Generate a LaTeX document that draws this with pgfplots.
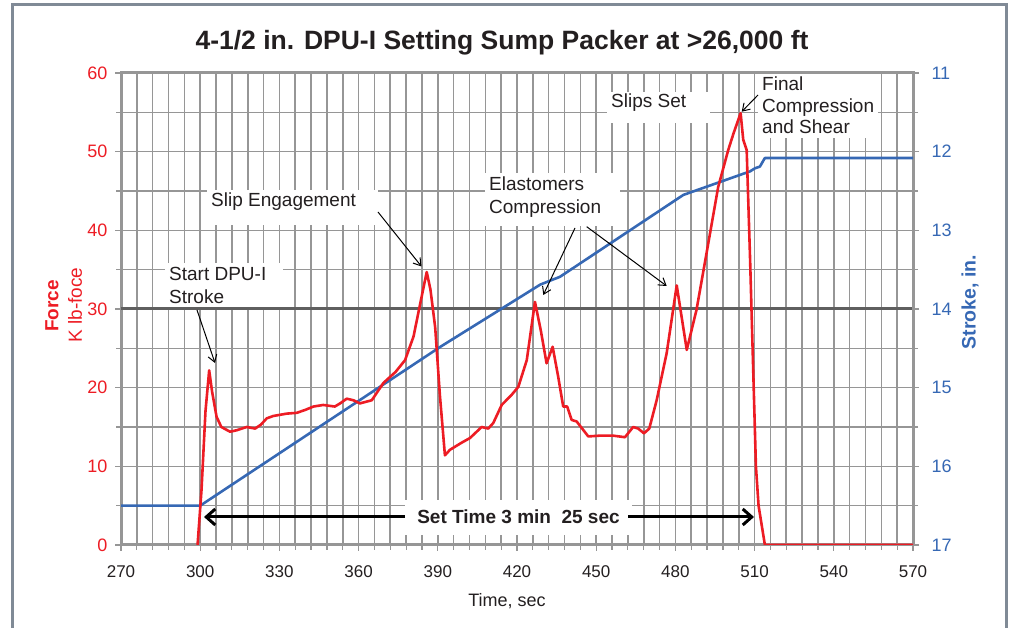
\documentclass[border=0pt]{standalone}
\usepackage{fontspec}
\setmainfont{Liberation Sans}
\usepackage{pgfplots}
\usepackage{pgfplotstable}
\pgfplotsset{compat=1.18}
\usetikzlibrary{arrows.meta}
\definecolor{fred}{RGB}{237,28,36}
\definecolor{sblue}{RGB}{54,104,180}
\definecolor{gridgray}{RGB}{150,150,150}
\definecolor{framegray}{RGB}{150,150,150}
\definecolor{bordergray}{RGB}{128,138,150}
\definecolor{darkline}{RGB}{95,95,95}
\definecolor{txt}{RGB}{35,31,32}

\pgfplotstableread{
t F
299 0
300.5 7
302 17
303.4 22.2
304.5 19.5
306.2 16.3
308 15
311.3 14.4
314 14.6
317.6 15.0
320.8 14.8
323 15.3
325.2 16.1
327.7 16.4
332.8 16.7
336.6 16.8
340 17.2
342.9 17.6
346.6 17.8
351 17.6
353 18.0
355.5 18.6
358 18.4
360.5 18.0
365 18.4
369.4 20.6
374 22.0
377.6 23.5
380.8 26.5
383.9 31.6
385.8 34.7
387.2 32.5
389 27.7
390.8 19.0
392.7 11.4
394.6 12.1
399 13.0
402.2 13.6
406.6 15.0
409.1 14.8
411 15.5
414.2 17.8
418 19.1
420.5 20.1
423.7 23.5
426.8 30.9
429 27.3
431.2 23.1
433.5 25.2
435.6 21.4
437.5 17.6
439 17.6
440.7 15.9
442.6 15.7
447 13.8
451.4 13.9
456.4 13.9
460.9 13.7
464 15.0
465.9 14.8
468.1 14.2
470.1 14.8
472.9 18.4
476.7 24.4
480.5 33.0
484.3 24.8
488 29.9
491.8 37.1
496.2 45.5
500 50.2
502 52.3
504.7 54.9
505.7 51.5
507 50.2
508.3 36.2
510.5 10
511.5 5
513.9 0
570 0
}\forcedata

\pgfplotstableread{
t S
270 16.5
300 16.5
391 14.48
428.8 13.69
436.3 13.59
483 12.55
508.3 12.25
510.2 12.21
512 12.19
513.9 12.08
570 12.08
}\strokedata

\pgfplotsset{
  common/.style={
    at={(121pt,83pt)}, anchor=south west, scale only axis,
    width=792pt, height=472pt, xmin=270, xmax=570,
    tick align=outside, major tick length=6pt, minor tick length=5pt,
    tick style={gridgray, line width=1.2pt},
    /pgf/number format/assume math mode=true,
  }
}

\begin{document}
\begin{tikzpicture}[x=1pt,y=1pt]
\useasboundingbox (0,0) rectangle (1010,628);
% outer border
\draw[bordergray, line width=3pt] (12,0) -- (12,623) -- (1006,623) -- (1006,0);

\begin{axis}[common,
  ymin=0, ymax=60,
  xtick={270,300,...,570}, ytick={0,10,...,60},
  minor x tick num=4, minor y tick num=1,
  tick pos=left,
  grid=both, major grid style={gridgray, line width=1.6pt},
  minor grid style={gridgray, line width=1.6pt},
  axis line style={framegray, line width=3pt},
  xticklabel style={font=\fontsize{17}{20}\selectfont, text=txt, yshift=-11pt},
  yticklabel style={font=\fontsize{18}{21}\selectfont, text=fred, xshift=-4pt},
]
\draw[darkline, line width=3pt] (axis cs:270,30) -- (axis cs:570,30);
\end{axis}

% annotation boxes (white, covering the grid)
\fill[white] (165,628-263) rectangle (283,628-307);
\fill[white] (207,628-190) rectangle (378,628-225);
\fill[white] (485,628-173) rectangle (620,628-226);
\fill[white] (607,628-92) rectangle (710,628-123);
\fill[white] (758,628-74.5) rectangle (878,628-138);
\fill[white] (405,628-500) rectangle (632,628-535);

\begin{axis}[common,
  ymin=11, ymax=17, y dir=reverse,
  axis x line=none, axis y line*=right,
  axis line style={framegray, line width=3pt, -},
  ytick={11,...,17}, minor y tick num=1,
  yticklabel style={font=\fontsize{18}{21}\selectfont, text=sblue, xshift=9pt},
]
\addplot[sblue, line width=2.6pt, line join=round] table[x=t, y=S] {\strokedata};
\end{axis}

\begin{axis}[common, ymin=0, ymax=60, hide axis]
\addplot[fred, line width=2.6pt, line join=round] table[x=t, y=F] {\forcedata};
\end{axis}

% title and labels
\node[font=\fontsize{26.5}{30}\selectfont\bfseries, text=txt] at (502,628-43) {4-1/2 in. DPU-I Setting Sump Packer at >26,000 ft};
\node[font=\fontsize{18}{21}\selectfont, text=txt] at (507,628-601) {Time, sec};
\node[rotate=90, font=\fontsize{19}{22}\selectfont\bfseries, text=fred] at (52,628-306) {Force};
\node[rotate=90, font=\fontsize{19}{22}\selectfont, text=fred] at (75,628-305) {K lb-foce};
\node[rotate=90, font=\fontsize{19.5}{22}\selectfont\bfseries, text=sblue] at (970,628-302) {Stroke, in.};

% annotation texts
\begin{scope}[every node/.style={font=\fontsize{19}{23}\selectfont, text=txt, align=left, inner sep=0pt}]
\node[anchor=west] at (169,628-285) {Start DPU-I\\Stroke};
\node[anchor=west] at (211,628-202) {Slip Engagement};
\node[anchor=west] at (489,628-197) {Elastomers\\Compression};
\node[anchor=west] at (611,628-103) {Slips Set};
\node[anchor=north west, font=\fontsize{19}{21.5}\selectfont] at (762,628-77) {Final\\Compression\\and Shear};
\node[font=\fontsize{19}{22}\selectfont\bfseries] at (518.5,628-517) {Set Time 3 min\ \ 25 sec};
\end{scope}

% arrows
\begin{scope}[black, line width=1pt, -{Straight Barb[length=7pt, width=9pt]}]
\draw (197,628-310) -- (215,628-363);
\draw (378,628-212) -- (421.5,628-266.5);
\draw (575,628-228) -- (543.3,628-295);
\draw (586.7,628-226.7) -- (666.7,628-286);
\draw (758,628-95) -- (741.7,628-111.7);
\end{scope}
\begin{scope}[black, line width=3pt, -{Straight Barb[length=9pt, width=16pt]}]
\draw (405,628-517) -- (204,628-517);
\draw (628,628-517) -- (754,628-517);
\end{scope}
\end{tikzpicture}
\end{document}
